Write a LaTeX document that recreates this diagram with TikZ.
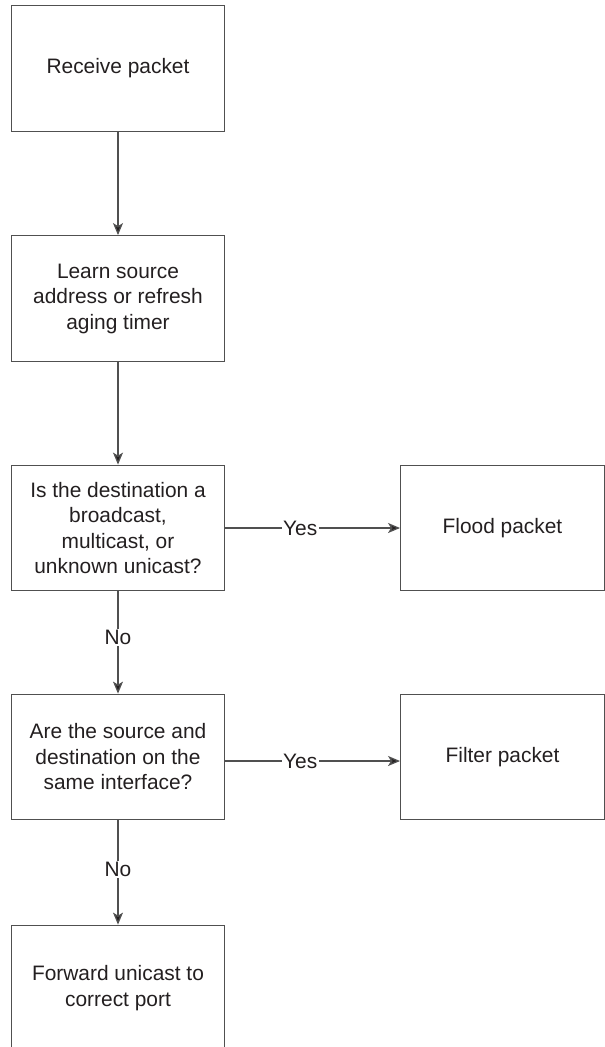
\documentclass[tikz,border=0pt]{standalone}
\usepackage{fontspec}
\setmainfont{Liberation Sans}
\usetikzlibrary{arrows.meta}
\definecolor{linegray}{RGB}{80,80,80}
\definecolor{textcol}{RGB}{35,31,32}
\begin{document}
\begin{tikzpicture}[x=1pt,y=-1pt,
  box/.style={draw=linegray, line width=1.3pt, rectangle, minimum width=212.6pt, minimum height=125.5pt, align=center, text=textcol, inner sep=0pt,
    font=\fontsize{20.9}{25.5}\selectfont},
  rbox/.style={box, minimum width=203.6pt},
  conn/.style={draw=linegray, line width=1.3pt, -{Stealth[length=12pt,width=10pt,inset=3pt,fill=textcol]}},
  lbl/.style={fill=white, text=textcol, inner sep=1.5pt, font=\fontsize{20.9}{25.5}\selectfont}]
\useasboundingbox (0,0) rectangle (605,1047);
\clip (0,0) rectangle (605,1047);
\node[box] (recv) at (118,68.5) {Receive packet};
\node[box] (learn) at (118,298.5) {Learn source\\address or refresh\\aging timer};
\node[box] (q1) at (118,528) {Is the destination a\\broadcast,\\multicast, or\\unknown unicast?};
\node[rbox] (flood) at (502.5,528) {Flood packet};
\node[box] (q2) at (118,757) {Are the source and\\destination on the\\same interface?};
\node[rbox] (filter) at (502.5,757) {Filter packet};
\node[box] (fwd) at (118,988) {Forward unicast to\\correct port};
\draw[conn] (recv) -- (learn);
\draw[conn] (learn) -- (q1);
\draw[conn] (q1) -- node[lbl, pos=0.43] {Yes} (flood);
\draw[conn] ([yshift=-4pt]q2.east) -- node[lbl, pos=0.43] {Yes} ([yshift=-4pt]filter.west);
\draw[conn] (q1) -- node[lbl, pos=0.45] {No} (q2);
\draw[conn] (q2) -- node[lbl, pos=0.47] {No} (fwd);
\end{tikzpicture}
\end{document}
